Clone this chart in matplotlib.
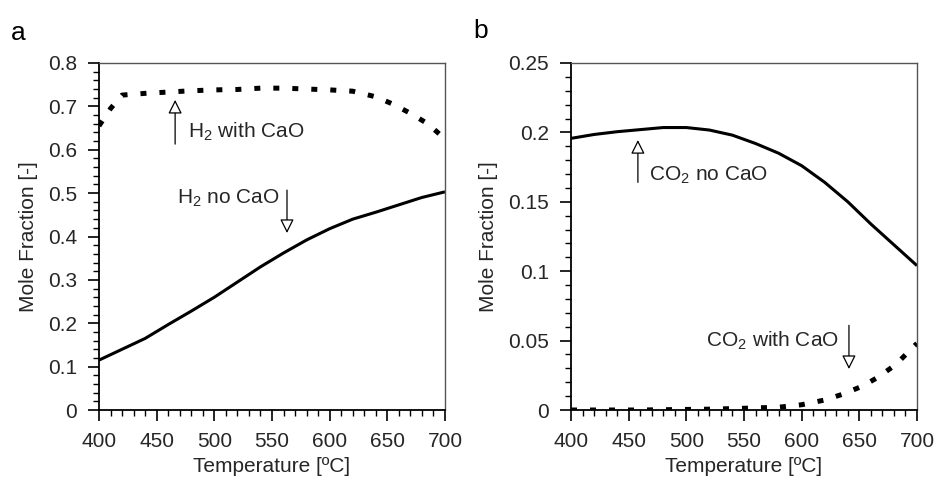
import matplotlib
matplotlib.use('Agg')
import matplotlib.pyplot as plt
from matplotlib.ticker import MultipleLocator

plt.rcParams['font.family'] = ['Liberation Sans', 'DejaVu Sans']
plt.rcParams['mathtext.fontset'] = 'custom'
plt.rcParams['mathtext.rm'] = 'Liberation Sans'

# ---- data ----
temp = [400, 420, 440, 460, 480, 500, 520, 540, 560, 580, 600, 620, 640, 660, 680, 700]
h2_no_cao = [0.115, 0.140, 0.165, 0.197, 0.228, 0.260, 0.295, 0.330, 0.362, 0.392,
             0.418, 0.440, 0.456, 0.473, 0.490, 0.503]

temp_cao = [400, 410, 420, 440, 460, 480, 500, 520, 540, 560, 580, 600, 620, 640, 655, 670, 685, 700]
h2_with_cao = [0.655, 0.695, 0.726, 0.730, 0.733, 0.736, 0.738, 0.739, 0.742, 0.742,
               0.740, 0.738, 0.735, 0.722, 0.705, 0.684, 0.660, 0.625]

co2_no_cao = [0.1957, 0.1985, 0.2005, 0.202, 0.2035, 0.2035, 0.2017, 0.198, 0.192, 0.185,
              0.176, 0.164, 0.150, 0.134, 0.119, 0.104]

temp_co2 = [400, 420, 440, 460, 480, 500, 520, 540, 560, 580, 600, 620, 636, 653, 667, 682, 695, 700]
co2_with_cao = [0.0, 0.0, 0.0, 0.0, 0.0002, 0.0004, 0.0006, 0.001, 0.0015, 0.002,
                0.0038, 0.0072, 0.0115, 0.0173, 0.024, 0.033, 0.044, 0.048]

TXT = '#262626'
FS = 15

fig = plt.figure(figsize=(9.35, 4.82), dpi=100)
ax1 = fig.add_axes([99 / 935, 72 / 482, 346 / 935, 347 / 482])
ax2 = fig.add_axes([571 / 935, 72 / 482, 346 / 935, 347 / 482])


def style_axes(ax, ymax, ymajor, yminor):
    ax.set_xlim(400, 700)
    ax.set_ylim(0, ymax)
    ax.xaxis.set_major_locator(MultipleLocator(50))
    ax.xaxis.set_minor_locator(MultipleLocator(10))
    ax.yaxis.set_major_locator(MultipleLocator(ymajor))
    ax.yaxis.set_minor_locator(MultipleLocator(yminor))
    ax.tick_params(which='major', direction='out', length=8, width=1.2,
                   pad=8, labelsize=FS, labelcolor=TXT, top=False, right=False)
    ax.tick_params(which='minor', direction='out', length=4, width=1.0,
                   top=False, right=False)
    for s in ['left', 'bottom']:
        ax.spines[s].set_color('black')
        ax.spines[s].set_linewidth(1.3)
    for s in ['top', 'right']:
        ax.spines[s].set_color('#555555')
        ax.spines[s].set_linewidth(1.0)
    ax.set_xlabel('Temperature [ºC]', fontsize=FS, color=TXT, labelpad=4)
    ax.set_ylabel('Mole Fraction [-]', fontsize=FS, color=TXT, labelpad=7)


def arrow(ax, tip, tail):
    ax.annotate('', xy=tip, xytext=tail,
                arrowprops=dict(arrowstyle='-|>,head_length=0.6,head_width=0.3',
                                fc='white', ec='black', lw=0.9,
                                shrinkA=0, shrinkB=0, mutation_scale=14))


# ---- panel a: H2 ----
ax1.plot(temp, h2_no_cao, color='black', lw=2.2, solid_capstyle='butt')
ax1.plot(temp_cao, h2_with_cao, color='black', lw=3.6, dashes=(1.2, 2.6),
         dash_capstyle='butt')
style_axes(ax1, 0.8, 0.1, 0.02)
ax1.yaxis.set_major_formatter(plt.FuncFormatter(lambda v, p: '0' if v == 0 else f'{v:.1f}'))

arrow(ax1, (466, 0.715), (466, 0.613))
ax1.text(477, 0.641, 'H$_\\mathregular{2}$ with CaO', fontsize=FS, color=TXT, va='center', ha='left')
arrow(ax1, (563, 0.408), (563, 0.507))
ax1.text(557, 0.489, 'H$_\\mathregular{2}$ no CaO', fontsize=FS, color=TXT, va='center', ha='right')

# ---- panel b: CO2 ----
ax2.plot(temp, co2_no_cao, color='black', lw=2.2, solid_capstyle='butt')
ax2.plot(temp_co2, co2_with_cao, color='black', lw=3.6, dashes=(1.2, 2.6),
         dash_capstyle='butt')
style_axes(ax2, 0.25, 0.05, 0.01)
ax2.yaxis.set_major_formatter(plt.FuncFormatter(lambda v, p: '0' if v == 0 else f'{v:g}'))

arrow(ax2, (458, 0.1945), (458, 0.164))
ax2.text(468, 0.169, 'CO$_\\mathregular{2}$ no CaO', fontsize=FS, color=TXT, va='center', ha='left')
arrow(ax2, (641, 0.0295), (641, 0.061))
ax2.text(632, 0.050, 'CO$_\\mathregular{2}$ with CaO', fontsize=FS, color=TXT, va='center', ha='right')

# panel letters
fig.text(11 / 935, 1 - 33 / 482, 'a', fontsize=19, va='center', ha='left')
fig.text(473 / 935, 1 - 31 / 482, 'b', fontsize=19, va='center', ha='left')

fig.savefig('out.png', dpi=100)
